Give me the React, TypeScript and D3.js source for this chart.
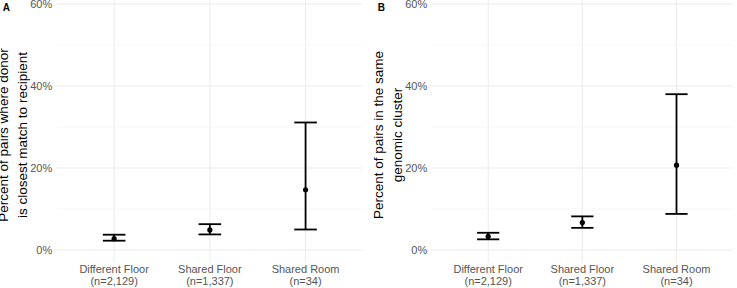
import * as d3 from "d3";

// categories shared by both panels
const groups = ["Different Floor", "Shared Floor", "Shared Room"];
const groupN = ["(n=2,129)", "(n=1,337)", "(n=34)"];

// panel A: donor is closest match to recipient (proportion, lower, upper)
const closestEst = [0.0276, 0.049, 0.147];
const closestLow = [0.0227, 0.038, 0.05];
const closestHigh = [0.0373, 0.063, 0.311];

// panel B: pairs in same genomic cluster
const clusterEst = [0.033, 0.067, 0.207];
const clusterLow = [0.026, 0.054, 0.088];
const clusterHigh = [0.042, 0.082, 0.38];

const majorTicks = [0, 0.2, 0.4, 0.6];
const minorTicks = [0.1, 0.3, 0.5];

const W = 737;
const H = 288;
const font = "'Liberation Sans', Arial, Helvetica, sans-serif";

type PanelProps = {
  tag: string;
  left: number;
  right: number;
  titleLines: string[];
  est: number[];
  low: number[];
  high: number[];
};

function Panel({ tag, left, right, titleLines, est, low, high }: PanelProps) {
  const top = -8.3;
  const bottom = 262.3;
  const x = d3.scalePoint<string>().domain(groups).range([left, right]).padding(0.6);
  const y = d3.scaleLinear().domain([-0.03, 0.63]).range([bottom, top]);
  const fmt = d3.format(".0%");
  const capHalf = x.step() * 0.118;
  const titleX0 = left - 48.5;

  return (
    <g>
      <text x={left - 54} y={11} fontSize={10} fontWeight="bold" fill="#000">
        {tag}
      </text>
      {minorTicks.map((t) => (
        <line key={"mn" + t} x1={left} x2={right} y1={y(t)} y2={y(t)} stroke="#f2f2f2" strokeWidth={0.6} />
      ))}
      {majorTicks.map((t) => (
        <line key={"mj" + t} x1={left} x2={right} y1={y(t)} y2={y(t)} stroke="#ebebeb" strokeWidth={1} />
      ))}
      {groups.map((g) => (
        <line key={"v" + g} x1={x(g)} x2={x(g)} y1={0} y2={bottom} stroke="#ebebeb" strokeWidth={1} />
      ))}
      {majorTicks.map((t) => (
        <text
          key={"yl" + t}
          x={left - 4.5}
          y={y(t)}
          dy="0.35em"
          textAnchor="end"
          fontSize={11}
          fill="#555"
        >
          {fmt(t)}
        </text>
      ))}
      {groups.map((g, i) => (
        <text key={"xl" + g} x={x(g)} textAnchor="middle" fontSize={11} fill="#555">
          <tspan x={x(g)} y={272.5}>
            {g}
          </tspan>
          <tspan x={x(g)} y={284.5}>
            {groupN[i]}
          </tspan>
        </text>
      ))}
      <text
        transform={`translate(${titleX0},135) rotate(-90)`}
        textAnchor="middle"
        fontSize={13.5}
        fill="#000"
      >
        {titleLines.map((l, i) => (
          <tspan key={i} x={0} y={i * 18.5}>
            {l}
          </tspan>
        ))}
      </text>
      {groups.map((g, i) => {
        const cx = x(g) as number;
        return (
          <g key={"e" + g} stroke="#000" strokeWidth={1.8}>
            <line x1={cx} x2={cx} y1={y(low[i])} y2={y(high[i])} />
            <line x1={cx - capHalf} x2={cx + capHalf} y1={y(low[i])} y2={y(low[i])} />
            <line x1={cx - capHalf} x2={cx + capHalf} y1={y(high[i])} y2={y(high[i])} />
            <circle cx={cx} cy={y(est[i])} r={2.6} fill="#000" stroke="none" />
          </g>
        );
      })}
    </g>
  );
}

export default function App() {
  return (
    <svg
      width={W}
      height={H}
      style={{ position: "absolute", left: 0, top: 0, background: "#fff", fontFamily: font }}
    >
      <Panel
        tag="A"
        left={56.7}
        right={363}
        titleLines={["Percent of pairs where donor", "is closest match to recipient"]}
        est={closestEst}
        low={closestLow}
        high={closestHigh}
      />
      <Panel
        tag="B"
        left={431.7}
        right={733}
        titleLines={["Percent of pairs in the same", "genomic cluster"]}
        est={clusterEst}
        low={clusterLow}
        high={clusterHigh}
      />
    </svg>
  );
}
